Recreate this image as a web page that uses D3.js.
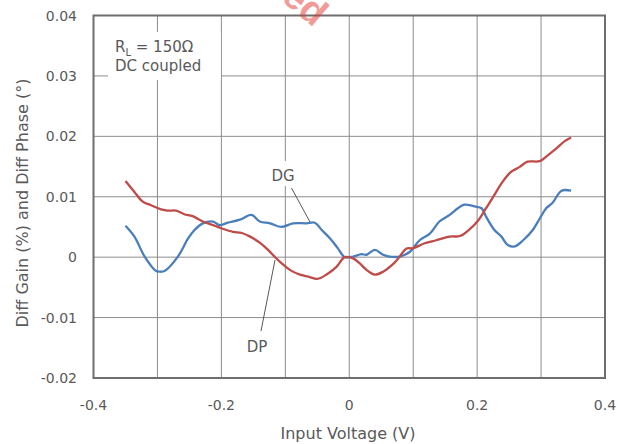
<!DOCTYPE html>
<html>
<head>
<meta charset="utf-8">
<style>
body { margin: 0; background: #fff; }
svg { display: block; font-family: "DejaVu Sans", Verdana, sans-serif; }
.grid line { stroke: #8c8c8c; stroke-width: 1; }
.tick-label { fill: #595959; font-size: 14px; }
</style>
<script src="https://cdn.jsdelivr.net/npm/d3@7"></script>
</head>
<body>
<div id="chart"></div>
<script>

// DG (diff gain)
var dgVolts = [-0.350,-0.336,-0.320,-0.302,-0.297,-0.289,-0.268,-0.252,-0.242,-0.229,-0.213,-0.203,-0.190,-0.171,-0.153,-0.140,-0.124,-0.106,-0.088,-0.067,-0.054,-0.043,-0.030,-0.018,-0.007,0.006,0.019,0.027,0.040,0.053,0.063,0.079,0.095,0.110,0.126,0.141,0.157,0.170,0.180,0.196,0.207,0.214,0.227,0.238,0.248,0.259,0.272,0.287,0.298,0.308,0.318,0.332,0.347];
var dgValues = [0.0052,0.0034,0.0001,-0.0023,-0.0024,-0.0023,0.0001,0.0031,0.0045,0.0056,0.0059,0.0053,0.0057,0.0062,0.0070,0.0059,0.0056,0.0050,0.0056,0.0056,0.0057,0.0045,0.0031,0.0015,0.0000,0.0001,0.0005,0.0004,0.0012,0.0004,0.0001,0.0001,0.0009,0.0028,0.0039,0.0059,0.0070,0.0081,0.0087,0.0084,0.0081,0.0067,0.0045,0.0034,0.0020,0.0018,0.0028,0.0045,0.0064,0.0081,0.0090,0.0110,0.0110];

// DP (diff phase)
var dpVolts = [-0.350,-0.336,-0.323,-0.310,-0.294,-0.284,-0.271,-0.258,-0.245,-0.229,-0.213,-0.198,-0.182,-0.168,-0.155,-0.140,-0.127,-0.116,-0.106,-0.093,-0.077,-0.062,-0.050,-0.036,-0.020,-0.007,0.006,0.016,0.027,0.040,0.053,0.068,0.079,0.089,0.100,0.118,0.136,0.157,0.173,0.188,0.201,0.214,0.227,0.240,0.253,0.266,0.279,0.298,0.311,0.324,0.337,0.347];
var dpValues = [0.0126,0.0108,0.0092,0.0086,0.0079,0.0077,0.0077,0.0071,0.0068,0.0059,0.0053,0.0047,0.0042,0.0040,0.0034,0.0024,0.0012,0.0000,-0.0010,-0.0021,-0.0029,-0.0033,-0.0036,-0.0029,-0.0016,0.0000,-0.0002,-0.0010,-0.0021,-0.0029,-0.0024,-0.0012,0.0001,0.0014,0.0015,0.0023,0.0028,0.0034,0.0035,0.0046,0.0060,0.0081,0.0103,0.0125,0.0141,0.0149,0.0158,0.0159,0.0169,0.0180,0.0192,0.0198];

var xTicks = [-0.4,-0.3,-0.2,-0.1,0,0.1,0.2,0.3,0.4];
var xLabels = [-0.4,-0.2,0,0.2,0.4];
var yTicks = [-0.02,-0.01,0,0.01,0.02,0.03,0.04];

var W = 626, H = 444;
var x = d3.scaleLinear().domain([-0.4, 0.4]).range([93.5, 605]);
var y = d3.scaleLinear().domain([-0.02, 0.04]).range([378, 15.5]);

var svg = d3.select("#chart").append("svg")
    .attr("width", W)
    .attr("height", H);

// gridlines
var grid = svg.append("g").attr("class", "grid");
grid.selectAll(".v").data(xTicks).enter().append("line")
    .attr("x1", d => x(d)).attr("x2", d => x(d))
    .attr("y1", y(0.04)).attr("y2", y(-0.02));
grid.selectAll(".h").data(yTicks).enter().append("line")
    .attr("y1", d => y(d)).attr("y2", d => y(d))
    .attr("x1", x(-0.4)).attr("x2", x(0.4));

// frame
svg.append("rect")
    .attr("x", x(-0.4)).attr("y", y(0.04))
    .attr("width", x(0.4) - x(-0.4)).attr("height", y(-0.02) - y(0.04))
    .attr("fill", "none").attr("stroke", "#6e6e6e").attr("stroke-width", 2);

// tick labels (plain hyphen minus, like the original)
svg.selectAll(".xl").data(xLabels).enter().append("text")
    .attr("class", "tick-label")
    .attr("x", d => x(d)).attr("y", 410)
    .attr("text-anchor", "middle")
    .text(d => String(d));
svg.selectAll(".yl").data(yTicks).enter().append("text")
    .attr("class", "tick-label")
    .attr("x", 77).attr("y", d => y(d) + 5)
    .attr("text-anchor", "end")
    .text(d => String(d));

// axis titles
svg.append("text")
    .attr("x", 348).attr("y", 439)
    .attr("text-anchor", "middle")
    .attr("fill", "#595959").attr("font-size", 16)
    .text("Input Voltage (V)");
svg.append("text")
    .attr("transform", "translate(28,203) rotate(-90)")
    .attr("text-anchor", "middle")
    .attr("fill", "#595959").attr("font-size", 16)
    .text("Diff Gain (%) and Diff Phase (°)");

// series
var line = d3.line()
    .curve(d3.curveCatmullRom.alpha(0.5))
    .x(d => x(d[0])).y(d => y(d[1]));
svg.append("path")
    .datum(d3.zip(dgVolts, dgValues))
    .attr("fill", "none").attr("stroke", "#4a7ebb").attr("stroke-width", 2.3)
    .attr("stroke-linejoin", "round")
    .attr("d", line);
svg.append("path")
    .datum(d3.zip(dpVolts, dpValues))
    .attr("fill", "none").attr("stroke", "#be4b48").attr("stroke-width", 2.3)
    .attr("stroke-linejoin", "round")
    .attr("d", line);

// condition note
svg.append("rect")
    .attr("x", 108).attr("y", 32).attr("width", 113).attr("height", 48)
    .attr("fill", "#fff");
var note = svg.append("text")
    .attr("x", 115).attr("y", 52)
    .attr("fill", "#595959").attr("font-size", 15);
note.append("tspan").text("R");
note.append("tspan").attr("font-size", 10).attr("dy", 4).text("L");
note.append("tspan").attr("dy", -4).text(" = 150Ω");
svg.append("text")
    .attr("x", 115).attr("y", 71)
    .attr("fill", "#595959").attr("font-size", 15)
    .text("DC coupled");

// DG / DP callouts
svg.append("rect")
    .attr("x", 269).attr("y", 161).attr("width", 28).attr("height", 25)
    .attr("fill", "#fff");
svg.append("text")
    .attr("x", 283).attr("y", 181)
    .attr("text-anchor", "middle")
    .attr("fill", "#595959").attr("font-size", 15)
    .text("DG");
svg.append("line")
    .attr("x1", 291.5).attr("y1", 188).attr("x2", 310).attr("y2", 222)
    .attr("stroke", "#595959").attr("stroke-width", 1);
svg.append("text")
    .attr("x", 257).attr("y", 352)
    .attr("text-anchor", "middle")
    .attr("fill", "#595959").attr("font-size", 15)
    .text("DP");
svg.append("line")
    .attr("x1", 275).attr("y1", 260).attr("x2", 261).attr("y2", 331)
    .attr("stroke", "#595959").attr("stroke-width", 1);

// watermark, only its tail is inside the picture
svg.append("text")
    .attr("transform", "translate(314,28) rotate(40)")
    .attr("text-anchor", "end")
    .attr("font-family", "Liberation Sans, Arial, sans-serif")
    .attr("font-weight", "bold")
    .attr("font-size", 38)
    .attr("fill", "#e53935").attr("opacity", 0.5)
    .text("Discontinued");

</script>
</body>
</html>
